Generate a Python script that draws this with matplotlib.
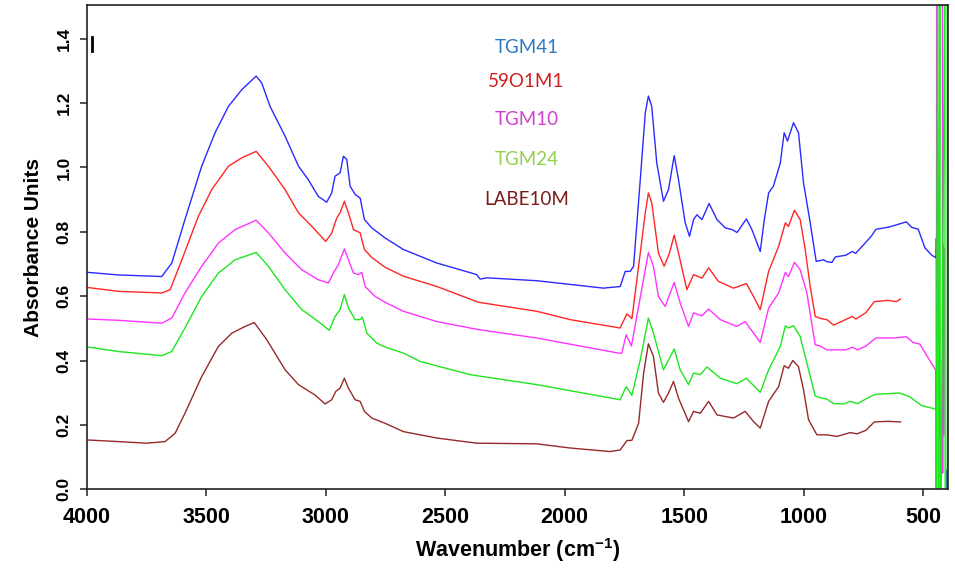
import matplotlib
matplotlib.use("Agg")
import matplotlib.pyplot as plt

plt.rcParams["mathtext.fontset"] = "custom"
plt.rcParams["mathtext.rm"] = "Liberation Sans:bold"
plt.rcParams["mathtext.bf"] = "Liberation Sans:bold"
plt.rcParams["mathtext.it"] = "Liberation Sans:bold"
plt.rcParams["mathtext.default"] = "rm"

# ---- spectra (wavenumber in cm-1, absorbance) ----
wn_tgm41 = [3996, 3868, 3686, 3644, 3589, 3519, 3463, 3407, 3351, 3291, 3268, 3233, 3170, 3114,
            3073, 3031, 2996, 2975, 2961, 2940, 2926, 2912, 2898, 2877, 2856, 2838, 2807, 2752,
            2675, 2535, 2368, 2354, 2326, 2117, 1838, 1768, 1747, 1726, 1712, 1684, 1663, 1650,
            1636, 1615, 1587, 1566, 1542, 1524, 1496, 1478, 1461, 1447, 1426, 1396, 1363, 1328,
            1300, 1279, 1240, 1217, 1182, 1165, 1147, 1127, 1098, 1082, 1068, 1043, 1022, 1001,
            973, 948, 917, 903, 882, 868, 825, 797, 783, 747, 719, 698, 648, 606, 571, 549, 521,
            493, 464, 446, 445, 444, 401, 400, 399]
ab_tgm41 = [0.674, 0.666, 0.661, 0.703, 0.838, 1.004, 1.108, 1.190, 1.242, 1.284, 1.263, 1.190, 1.097, 1.004,
            0.962, 0.910, 0.892, 0.921, 0.973, 0.983, 1.035, 1.025, 0.942, 0.916, 0.905, 0.838, 0.812, 0.781,
            0.745, 0.703, 0.667, 0.653, 0.657, 0.648, 0.625, 0.630, 0.677, 0.677, 0.693, 0.962, 1.170, 1.222,
            1.190, 1.014, 0.895, 0.931, 1.037, 0.962, 0.828, 0.786, 0.838, 0.853, 0.838, 0.888, 0.838, 0.812,
            0.807, 0.798, 0.840, 0.807, 0.739, 0.838, 0.921, 0.942, 1.014, 1.108, 1.082, 1.139, 1.108, 0.952,
            0.828, 0.708, 0.713, 0.707, 0.705, 0.722, 0.727, 0.739, 0.733, 0.762, 0.785, 0.808, 0.814, 0.823, 0.831, 0.814, 0.808,
            0.750, 0.727, 0.719, 0.780, -0.3, -0.3, 0.06, -0.3]

wn_59o1m1 = [3996, 3868, 3686, 3651, 3602, 3533, 3477, 3407, 3351, 3291, 3240, 3170, 3114, 3058,
             3000, 2975, 2954, 2940, 2922, 2905, 2884, 2856, 2838, 2807, 2752, 2675, 2535, 2361,
             2117, 1977, 1768, 1740, 1719, 1691, 1663, 1650, 1636, 1608, 1584, 1562, 1542, 1524,
             1489, 1461, 1426, 1398, 1357, 1294, 1240, 1210, 1182, 1147, 1105, 1077, 1064, 1039,
             1015, 994, 973, 952, 931, 903, 875, 846, 797, 782, 740, 705, 648, 613, 595]
ab_59o1m1 = [0.627, 0.615, 0.610, 0.620, 0.713, 0.848, 0.931, 1.004, 1.030, 1.050, 1.004, 0.931, 0.859, 0.817,
             0.770, 0.796, 0.843, 0.859, 0.895, 0.859, 0.807, 0.797, 0.745, 0.720, 0.690, 0.662, 0.630, 0.581,
             0.553, 0.527, 0.501, 0.545, 0.530, 0.693, 0.859, 0.921, 0.890, 0.734, 0.693, 0.734, 0.790, 0.734,
             0.620, 0.667, 0.656, 0.688, 0.646, 0.625, 0.639, 0.599, 0.558, 0.677, 0.755, 0.828, 0.817, 0.867,
             0.838, 0.745, 0.630, 0.537, 0.531, 0.527, 0.510, 0.520, 0.537, 0.529, 0.549, 0.583, 0.587, 0.583, 0.591]

wn_tgm10 = [3996, 3868, 3686, 3644, 3589, 3519, 3449, 3379, 3291, 3240, 3170, 3100, 3031, 2989,
            2968, 2947, 2922, 2905, 2884, 2863, 2849, 2835, 2793, 2752, 2675, 2535, 2361, 2117,
            1775, 1761, 1743, 1721, 1691, 1650, 1629, 1608, 1580, 1542, 1517, 1482, 1461, 1426,
            1398, 1349, 1280, 1245, 1210, 1182, 1147, 1105, 1077, 1064, 1039, 1015, 987, 952,
            931, 903, 875, 825, 797, 775, 740, 698, 620, 571, 542, 514, 486, 457, 448,
            446, 445, 444, 420, 419, 418, 416, 414, 413]
ab_tgm10 = [0.529, 0.525, 0.516, 0.532, 0.610, 0.693, 0.765, 0.807, 0.836, 0.797, 0.734, 0.682, 0.651, 0.641,
            0.672, 0.698, 0.747, 0.713, 0.672, 0.667, 0.674, 0.630, 0.599, 0.581, 0.553, 0.521, 0.496, 0.470,
            0.423, 0.423, 0.480, 0.445, 0.568, 0.736, 0.693, 0.599, 0.568, 0.643, 0.579, 0.506, 0.548, 0.539,
            0.560, 0.527, 0.506, 0.521, 0.485, 0.456, 0.563, 0.610, 0.674, 0.661, 0.705, 0.682, 0.610, 0.449,
            0.445, 0.433, 0.433, 0.433, 0.441, 0.433, 0.445, 0.470, 0.470, 0.474, 0.456, 0.451, 0.416, 0.381, 0.370,
            0.15, -0.3, 1.503, 1.503, 0.05, 0.76, 0.20, 0.75, 0.17]

wn_tgm24 = [3996, 3868, 3686, 3644, 3589, 3519, 3449, 3379, 3291, 3240, 3170, 3100, 3031, 2985,
            2961, 2940, 2922, 2905, 2877, 2856, 2847, 2828, 2786, 2752, 2675, 2605, 2396, 2117,
            1768, 1743, 1719, 1684, 1650, 1629, 1587, 1542, 1517, 1482, 1461, 1433, 1405, 1349,
            1280, 1240, 1182, 1147, 1098, 1077, 1064, 1043, 1015, 987, 952, 931, 903, 875, 833,
            805, 775, 719, 698, 599, 556, 507, 448,
            446, 440, 436, 431, 428, 410, 408, 400, 399, 397, 396]
ab_tgm24 = [0.442, 0.428, 0.415, 0.428, 0.501, 0.599, 0.672, 0.713, 0.736, 0.693, 0.620, 0.558, 0.521, 0.494,
            0.537, 0.558, 0.605, 0.563, 0.527, 0.527, 0.535, 0.485, 0.454, 0.442, 0.423, 0.397, 0.356, 0.325,
            0.278, 0.319, 0.292, 0.402, 0.532, 0.485, 0.371, 0.436, 0.371, 0.325, 0.361, 0.356, 0.380, 0.345,
            0.328, 0.345, 0.301, 0.371, 0.444, 0.508, 0.501, 0.508, 0.475, 0.392, 0.290, 0.284, 0.280, 0.266, 0.265,
            0.273, 0.266, 0.289, 0.295, 0.299, 0.287, 0.260, 0.249,
            -0.3, 1.6, -0.3, 1.6, -0.3, 1.6, -0.3, -0.3, 1.6, -0.3, 1.6]

wn_labe10m = [3996, 3868, 3749, 3672, 3630, 3589, 3519, 3449, 3393, 3337, 3299, 3247, 3170, 3114,
              3045, 3003, 2975, 2958, 2940, 2922, 2905, 2877, 2856, 2838, 2807, 2752, 2675, 2535,
              2368, 2117, 1977, 1810, 1768, 1740, 1719, 1691, 1670, 1650, 1629, 1608, 1587, 1566,
              1545, 1524, 1482, 1461, 1433, 1398, 1363, 1294, 1245, 1210, 1182, 1147, 1105, 1082,
              1064, 1046, 1022, 1001, 980, 945, 903, 861, 805, 777, 740, 705, 648, 595]
ab_labe10m = [0.153, 0.148, 0.143, 0.148, 0.174, 0.236, 0.350, 0.444, 0.485, 0.506, 0.518, 0.465, 0.371, 0.325,
              0.293, 0.265, 0.278, 0.304, 0.314, 0.345, 0.314, 0.278, 0.273, 0.242, 0.221, 0.205, 0.179, 0.159,
              0.143, 0.141, 0.128, 0.117, 0.122, 0.151, 0.152, 0.205, 0.361, 0.452, 0.413, 0.299, 0.270, 0.299,
              0.335, 0.283, 0.210, 0.242, 0.236, 0.273, 0.231, 0.221, 0.242, 0.210, 0.190, 0.273, 0.319, 0.384,
              0.376, 0.400, 0.381, 0.309, 0.216, 0.169, 0.169, 0.164, 0.176, 0.172, 0.183, 0.209, 0.211, 0.209]

sample_names = ["TGM41", "59O1M1", "TGM10", "TGM24", "LABE10M"]
line_colors = ["#2a2aff", "#ff2626", "#ff33ff", "#1ee61e", "#962a2a"]
label_colors = ["#2f78c4", "#cf2020", "#cc44cc", "#92d050", "#7a1a1a"]
spectra = [(wn_tgm41, ab_tgm41), (wn_59o1m1, ab_59o1m1), (wn_tgm10, ab_tgm10),
           (wn_tgm24, ab_tgm24), (wn_labe10m, ab_labe10m)]

x_ticks = [4000, 3500, 3000, 2500, 2000, 1500, 1000, 500]
y_ticks = [0.0, 0.2, 0.4, 0.6, 0.8, 1.0, 1.2, 1.4]

fig = plt.figure(figsize=(9.55, 5.81), dpi=100)
ax = fig.add_axes([0.0908, 0.158, 0.9020, 0.8334])

for (wn, ab), c in zip(spectra, line_colors):
    ax.plot(wn, ab, color=c, lw=1.0)

ax.set_xlim(4000, 396)
ax.set_ylim(0, 1.505)

# small marker stroke near the top-left corner
ax.plot([3979, 3979], [1.362, 1.405], color="black", lw=2.0)

ax.set_xticks(x_ticks)
ax.set_yticks(y_ticks)
ax.set_xticklabels([str(v) for v in x_ticks],
                   fontdict=dict(family="Liberation Sans", weight="bold", size=15.5))
ax.set_yticklabels([f"{v:.1f}" for v in y_ticks],
                   fontdict=dict(family="Liberation Sans", weight="bold", size=12.5),
                   rotation=90, va="center")
ax.tick_params(axis="both", direction="out", length=5, width=1.2, color="#333333")
ax.tick_params(axis="x", pad=8)
ax.tick_params(axis="y", pad=6)
for s in ax.spines.values():
    s.set_linewidth(1.2)
    s.set_color("#222222")

ax.set_xlabel("Wavenumber (cm$^{-1}$)", family="Liberation Sans",
              weight="bold", size=15.5, labelpad=6)
ax.set_ylabel("Absorbance Units", family="Liberation Sans", weight="bold", size=15, labelpad=10)

# sample labels
label_y = [1.372, 1.268, 1.148, 1.024, 0.899]
for name, c, yv in zip(sample_names, label_colors, label_y):
    ax.text(2160, yv, name, color=c, ha="center", va="center", family="Lato", size=13.5)

fig.savefig("out.png", dpi=100)
